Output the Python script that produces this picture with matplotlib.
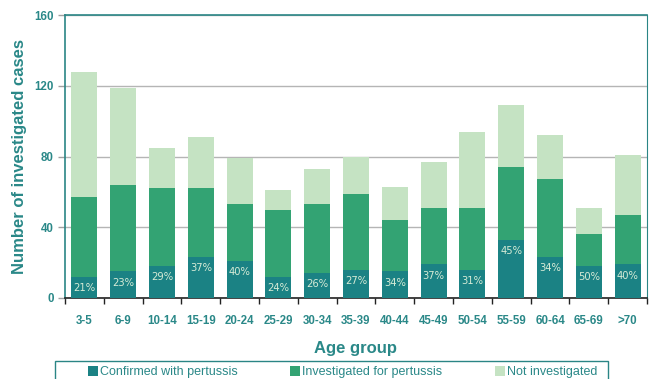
import matplotlib
matplotlib.use("Agg")
import matplotlib.pyplot as plt
from matplotlib.patches import Rectangle
import numpy as np

categories = ["3-5", "6-9", "10-14", "15-19", "20-24", "25-29", "30-34", "35-39",
              "40-44", "45-49", "50-54", "55-59", "60-64", "65-69", ">70"]
total_cases = [128, 119, 85, 91, 79, 61, 73, 80, 63, 77, 94, 109, 92, 51, 81]
investigated = [57, 64, 62, 62, 53, 50, 53, 59, 44, 51, 51, 74, 67, 36, 47]
confirmed = [12, 15, 18, 23, 21, 12, 14, 16, 15, 19, 16, 33, 23, 18, 19]
pct_labels = ["21%", "23%", "29%", "37%", "40%", "24%", "26%", "27%",
              "34%", "37%", "31%", "45%", "34%", "50%", "40%"]

C_DARK = "#1b8284"
C_MID = "#33a373"
C_LIGHT = "#c5e3c3"
C_TEXT = "#2a8888"

plt.rcParams["font.family"] = ["Liberation Sans", "DejaVu Sans"]

fig = plt.figure(figsize=(6.52, 3.79), dpi=100)
ax = fig.add_axes([65/652, 1-298/379, 582/652, 283/379])

x = np.arange(len(categories))
conf = np.array(confirmed)
inv = np.array(investigated)
tot = np.array(total_cases)
w = 0.67
b1 = ax.bar(x, conf, w, color=C_DARK, label="Confirmed with pertussis", zorder=3)
b2 = ax.bar(x, inv - conf, w, bottom=conf, color=C_MID, label="Investigated for pertussis", zorder=3)
b3 = ax.bar(x, tot - inv, w, bottom=inv, color=C_LIGHT, label="Not investigated", zorder=3)

for xi, c, lab in zip(x, conf, pct_labels):
    ax.annotate(lab, (xi, c), xytext=(0, -8), textcoords="offset points",
                ha="center", va="center", fontsize=7.2, color="#d6ebd6",
                family="DejaVu Sans", zorder=4)

ax.set_xlim(-0.5, len(categories) - 0.5)
ax.set_ylim(0, 160)
ax.set_yticks([0, 40, 80, 120, 160])
ax.yaxis.grid(True, color="#b5b5b5", linewidth=1, zorder=0)
ax.set_axisbelow(True)

ax.set_xticks(x)
ax.set_xticklabels(categories)
ax.set_xticks(np.arange(-0.5, len(categories), 1.0), minor=True)
ax.tick_params(axis="x", which="major", length=0, pad=12, labelsize=8.3, labelcolor=C_TEXT)
ax.tick_params(axis="x", which="minor", length=4, width=1, color="#222222", direction="out")
for t in ax.get_xticklabels():
    t.set_fontweight("bold")
ax.tick_params(axis="y", length=5, width=1, color="#a0a0a0", pad=3, labelsize=8.3, labelcolor=C_TEXT)
for t in ax.get_yticklabels():
    t.set_fontweight("bold")

for s in ["left", "top", "right"]:
    ax.spines[s].set_color("#2a8585")
    ax.spines[s].set_linewidth(1.2)
ax.spines["right"].set_linewidth(0.8)
ax.spines["bottom"].set_color("#222222")
ax.spines["bottom"].set_linewidth(1.2)

ax.set_xlabel("Age group", fontsize=12, fontweight="bold", color=C_TEXT, labelpad=10)
ax.set_ylabel("Number of investigated cases", fontsize=12, fontweight="bold", color=C_TEXT, labelpad=5)

fig.legend(handles=[b1, b2, b3], loc="center left", bbox_to_anchor=(82/652, 1-372/379),
           ncol=3, frameon=False, fontsize=9, handlelength=0.8, handleheight=0.8,
           handletextpad=0.15, columnspacing=4.2, borderpad=0, labelcolor=C_TEXT)
fig.patches.append(Rectangle((55/652, -0.1), (608-55)/652, 0.1 + (379-361)/379,
                             transform=fig.transFigure, fill=False,
                             edgecolor="#2a8585", linewidth=1.0))

fig.savefig("out.png", dpi=100)
